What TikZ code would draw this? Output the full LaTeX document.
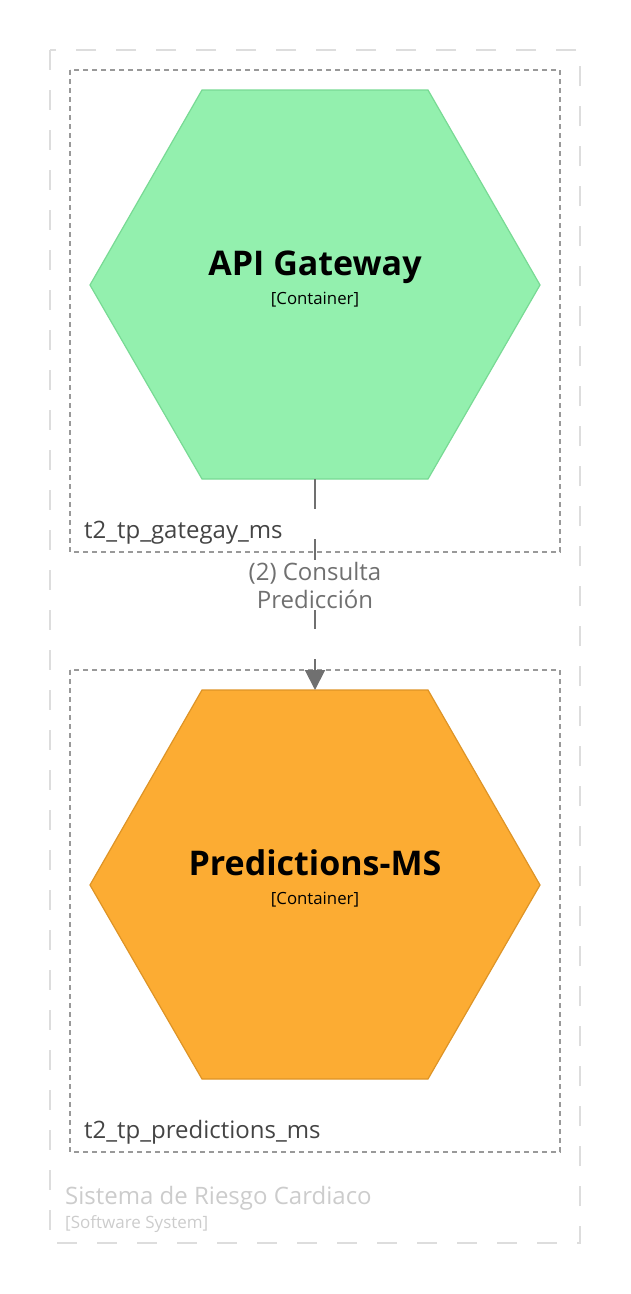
\documentclass[tikz,border=0pt]{standalone}
\usepackage{fontspec}
\setmainfont{Open Sans}
\usetikzlibrary{arrows.meta}
\definecolor{sysline}{RGB}{221,221,221}
\definecolor{grpline}{RGB}{153,153,153}
\definecolor{greenfill}{RGB}{147,240,174}
\definecolor{greenline}{RGB}{120,218,148}
\definecolor{orangefill}{RGB}{252,172,51}
\definecolor{orangeline}{RGB}{222,148,38}
\definecolor{relcol}{RGB}{112,112,112}
\definecolor{grptext}{RGB}{68,68,68}
\definecolor{systext}{RGB}{204,204,204}
\tikzset{
  sysbox/.style={draw=sysline, line width=2pt, dash pattern=on 20pt off 20pt},
  grpbox/.style={draw=grpline, line width=1.5pt, dash pattern=on 5pt off 4pt},
  grplabel/.style={anchor=base west, text=grptext, font=\fontsize{24}{28}\selectfont, inner sep=0pt},
  hexgreen/.style={fill=greenfill, draw=greenline, line width=1.2pt},
  hexorange/.style={fill=orangefill, draw=orangeline, line width=1.2pt},
  titletext/.style={anchor=base, font=\fontsize{34}{40}\selectfont\bfseries, inner sep=0pt},
  typetext/.style={anchor=base, font=\fontsize{16.8}{20}\selectfont, inner sep=0pt},
  rel/.style={draw=relcol, line width=2pt, dash pattern=on 30pt off 30pt, -{Triangle[length=20pt,width=20pt]}},
  rellabel/.style={fill=white, text=relcol, font=\fontsize{24}{28}\selectfont, align=center, inner sep=2pt},
}
\begin{document}
\begin{tikzpicture}[x=1pt,y=-1pt]
\useasboundingbox (0,0) rectangle (630,1294);
% system boundary
\draw[sysbox] (50,50) rectangle (580,1243);
\node[anchor=base west, text=systext, font=\fontsize{24}{28}\selectfont, inner sep=0pt] (sysname) at (65,1204) {Sistema de Riesgo Cardiaco};
\node[anchor=base west, text=systext, font=\fontsize{17}{20}\selectfont, inner sep=0pt] (systype) at (65,1228) {[Software System]};
% group boxes
\draw[grpbox] (70,70) rectangle (560,552);
\node[grplabel] (g1) at (84,538) {t2\_tp\_gategay\_ms};
\draw[grpbox] (70,670) rectangle (560,1152);
\node[grplabel] (g2) at (84,1138) {t2\_tp\_predictions\_ms};
% hexagons
\draw[hexgreen] (202,90) -- (428,90) -- (540,285) -- (428,479) -- (202,479) -- (90,285) -- cycle;
\coordinate (gwtop) at (315,90);
\coordinate (gwbot) at (315,479);
\node[titletext] (gwname) at (315,275) {API Gateway};
\node[typetext] (gwtype) at (315,304) {[Container]};
\draw[hexorange] (202,690) -- (428,690) -- (540,885) -- (428,1079) -- (202,1079) -- (90,885) -- cycle;
\coordinate (pmtop) at (315,690);
\node[titletext] (pmname) at (315,875) {Predictions-MS};
\node[typetext] (pmtype) at (315,904) {[Container]};
% relationship
\draw[rel] (gwbot) -- (pmtop);
\node[rellabel] (rl) at (315,585) {(2) Consulta\\Predicción};
\end{tikzpicture}
\end{document}
